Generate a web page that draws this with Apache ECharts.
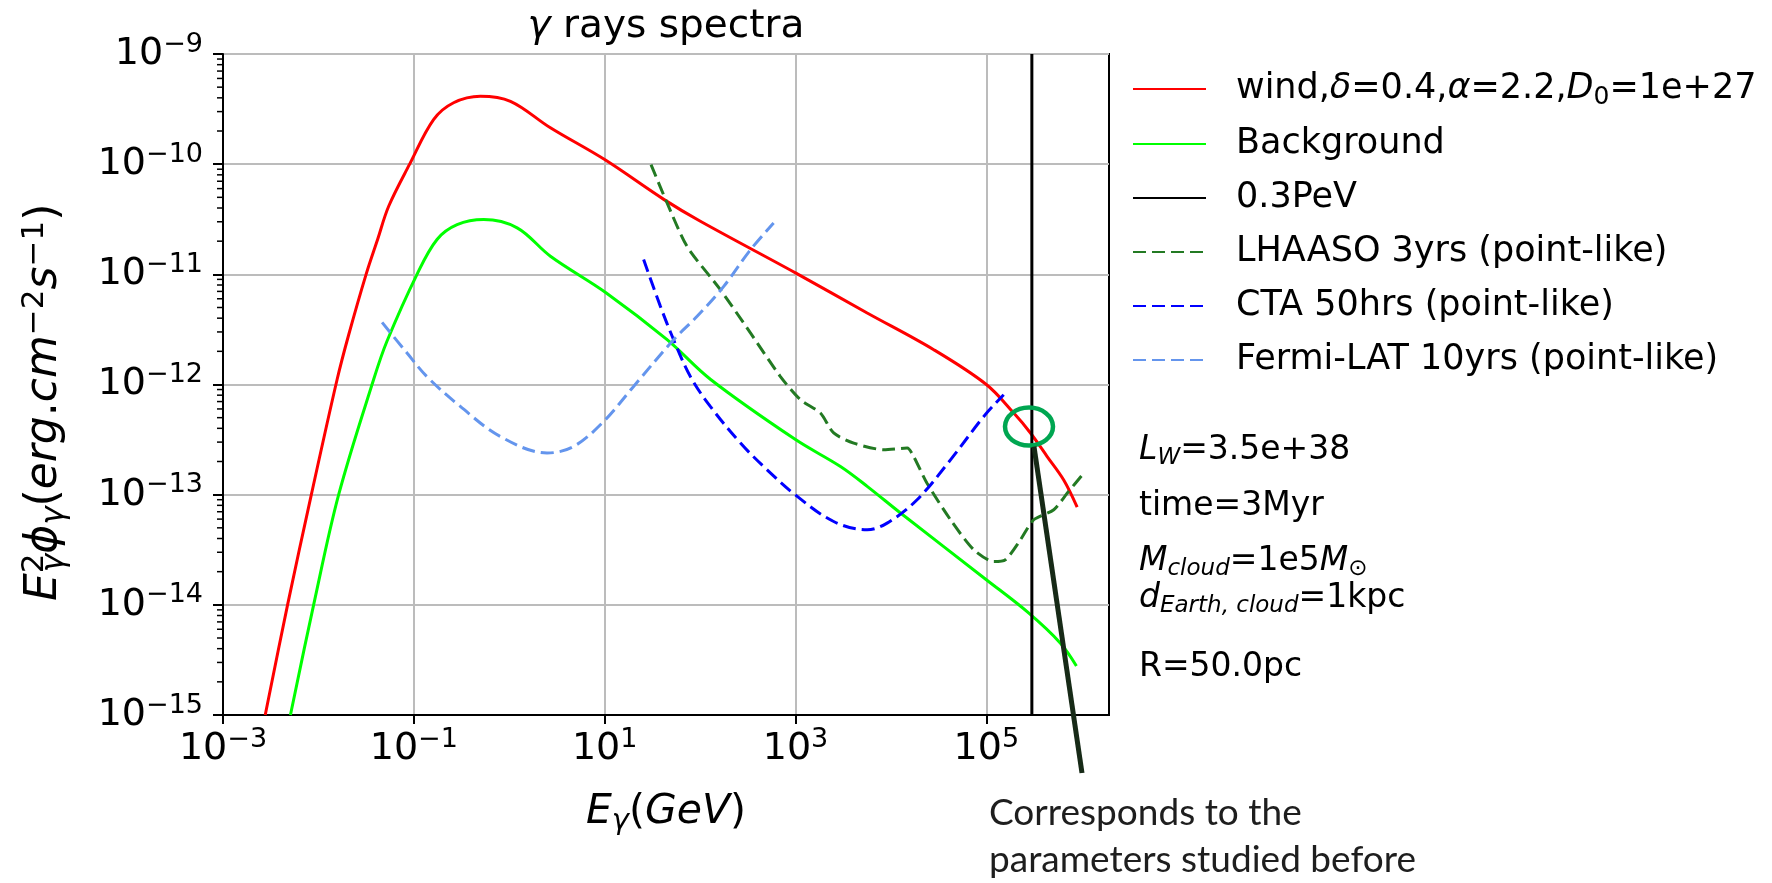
<!DOCTYPE html>
<html>
<head>
<meta charset="utf-8">
<script src="https://cdn.jsdelivr.net/npm/echarts@6/dist/echarts.min.js"></script>
<style>
  html, body { margin: 0; padding: 0; background: #fff; }
  #chart { width: 1772px; height: 883px; }
</style>
</head>
<body>
<div id="chart"></div>
<script>
// energies in GeV, E^2 flux in erg cm^-2 s^-1
const windE = [2.77e-3, 4.75e-3, 8.43e-3, 1.57e-2, 2.07e-2, 3.16e-2, 4.17e-2, 5.45e-2, 9.04e-2, 0.161, 0.261, 0.498, 1.03, 2.70, 10, 41.6, 100.7, 1000, 5640, 2.81e4, 1e5, 1.94e5, 2.90e5, 4.34e5, 6.47e5, 8.95e5];
const windF = [1e-15, 1e-14, 1e-13, 1.11e-12, 2.80e-12, 1e-11, 2.07e-11, 4.15e-11, 1e-10, 2.54e-10, 3.61e-10, 4.14e-10, 3.72e-10, 2.14e-10, 1.10e-10, 4.79e-11, 3.03e-11, 1.03e-11, 4.46e-12, 2.07e-12, 1.0e-12, 5.5e-13, 3.63e-13, 2.22e-13, 1.36e-13, 7.71e-14];

const bgE = [5.09e-3, 8.91e-3, 1.63e-2, 3.79e-2, 5.24e-2, 0.108, 0.175, 0.284, 0.540, 1.21, 2.70, 10.4, 45.1, 129, 1000, 2960, 5640, 1.26e4, 1e5, 2.79e5, 5.98e5, 8.79e5];
const bgF = [1e-15, 1e-14, 1e-13, 1.11e-12, 2.48e-12, 1e-11, 2.07e-11, 2.82e-11, 3.14e-11, 2.64e-11, 1.46e-11, 6.78e-12, 2.55e-12, 1.11e-12, 3.16e-13, 1.80e-13, 1.19e-13, 6.81e-14, 1.69e-14, 8.41e-15, 4.49e-15, 2.79e-15];

const cutE = [3e5, 3e5];
const cutF = [1e-15, 1e-9];

const lhaasoE = [30.6, 45.1, 73.1, 163, 337, 695, 1125, 1824, 2512, 4074, 8414, 1.48e4, 1.73e4, 2.39e4, 4.21e4, 7.38e4, 1.20e5, 1.58e5, 2.28e5, 3.14e5, 5.09e5, 7.03e5, 1.05e6];
const lhaasoF = [9.91e-11, 4.45e-11, 1.79e-11, 7.26e-12, 2.94e-12, 1.18e-12, 7.28e-13, 5.51e-13, 3.63e-13, 2.94e-13, 2.56e-13, 2.65e-13, 2.22e-13, 1.27e-13, 5.92e-14, 3.16e-14, 2.47e-14, 2.56e-14, 3.90e-14, 5.92e-14, 7.29e-14, 1.03e-13, 1.57e-13];

const ctaE = [25.6, 38.4, 52.8, 79.1, 128, 265, 504, 991, 2512, 5640, 9120, 1.88e4, 4.21e4, 9.40e4, 1.52e5];
const ctaF = [1.36e-11, 5.12e-12, 2.55e-12, 1.18e-12, 6.32e-13, 2.94e-13, 1.68e-13, 9.98e-14, 5.71e-14, 4.80e-14, 5.52e-14, 8.99e-14, 2.07e-13, 5.13e-13, 8.07e-13];

const fermiE = [4.65e-2, 8.49e-2, 0.137, 0.307, 0.807, 2.49, 4.73, 9.77, 20.1, 52.8, 93.1, 177, 337, 590];
const fermiF = [3.66e-12, 1.93e-12, 1.18e-12, 6.32e-13, 3.37e-13, 2.39e-13, 2.74e-13, 4.62e-13, 9.61e-13, 2.55e-12, 4.16e-12, 7.78e-12, 1.67e-11, 2.93e-11];

const seriesNames = ['wind', 'Background', '0.3PeV', 'LHAASO 3yrs (point-like)', 'CTA 50hrs (point-like)', 'Fermi-LAT 10yrs (point-like)'];

const xTicks = [1e-3, 1e-1, 1e1, 1e3, 1e5];
const yTicks = [1e-15, 1e-14, 1e-13, 1e-12, 1e-11, 1e-10, 1e-9];
const minorMantissas = [2, 3, 4, 5, 6, 7, 8, 9];

const paramTexts = [
  '{i|L}{sub|W}{n|=3.5e+38}',
  '{n|time=3Myr}',
  '{i|M}{sub|cloud}{n|=1e5}{i|M}{subn|⊙}',
  '{i|d}{sub|Earth, cloud}{n|=1kpc}',
  '{n|R=50.0pc}'
];
const calloutLines = ['Corresponds to the', 'parameters studied before'];

const xMin = 1e-3, xMax = 1.93e6;
const markAt = [2.8e5, 4.15e-13];

const pairs = (xs, ys) => xs.map((x, i) => [x, ys[i]]);

let yMinor = [];
yTicks.slice(0, -1).forEach(d => minorMantissas.forEach(m => yMinor.push(m * d)));

const FONT = 'DejaVu Sans';

function powLabel(v) {
  const e = Math.round(Math.log10(v));
  return '{b|10}{s|' + (e < 0 ? '\u2212' + (-e) : e) + '}';
}

const tickRich = {
  b: { fontFamily: FONT, fontSize: 38, lineHeight: 46, color: '#000' },
  s: { fontFamily: FONT, fontSize: 27, lineHeight: 27, verticalAlign: 'top', color: '#000' }
};

const mathRich = (size) => {
  const small = Math.round(size * 0.7);
  return {
    n: { fontFamily: FONT, fontSize: size, lineHeight: size + 7, color: '#000' },
    i: { fontFamily: FONT, fontStyle: 'italic', fontSize: size, lineHeight: size + 7, color: '#000' },
    sub: { fontFamily: FONT, fontStyle: 'italic', fontSize: small, lineHeight: small, verticalAlign: 'bottom', color: '#000' },
    subn: { fontFamily: FONT, fontSize: small, lineHeight: small, verticalAlign: 'bottom', color: '#000' },
    sup: { fontFamily: FONT, fontSize: small, lineHeight: small, verticalAlign: 'top', color: '#000' },
    sup0: { fontFamily: FONT, fontSize: small, lineHeight: small, verticalAlign: 'top', width: 1, align: 'left', color: '#000' }
  };
};

const chart = echarts.init(document.getElementById('chart'));

const lineSeries = (name, xs, ys, color, dashed, smooth) => ({
  name: name,
  type: 'line',
  data: pairs(xs, ys),
  symbol: 'none',
  smooth: smooth,
  lineStyle: { color: color, width: 3, type: dashed ? [13, 6] : 'solid' },
  itemStyle: { color: color },
  z: 3
});

const paramY = [450, 506, 561, 598, 667];

let option = {
  animation: false,
  backgroundColor: '#fff',
  grid: {
    left: 223, right: 663, top: 54, bottom: 168,
    show: true, borderColor: '#000', borderWidth: 2, backgroundColor: 'transparent'
  },
  xAxis: {
    type: 'log', logBase: 10, min: xMin, max: xMax,
    axisLine: { show: true, lineStyle: { color: '#000', width: 2 } },
    axisTick: { show: true, length: 9, customValues: xTicks, lineStyle: { color: '#000', width: 2 } },
    axisLabel: { customValues: xTicks, margin: 11, formatter: powLabel, rich: tickRich },
    splitLine: { show: true, lineStyle: { color: '#bcbcbc', width: 2 } },
    minorTick: { show: false }
  },
  yAxis: {
    type: 'log', logBase: 10, min: 1e-15, max: 1e-9,
    axisLine: { show: true, lineStyle: { color: '#000', width: 2 } },
    axisTick: { show: true, length: 10, lineStyle: { color: '#000', width: 2 } },
    axisLabel: { margin: 20, formatter: powLabel, rich: tickRich, showMinLabel: true, showMaxLabel: true },
    splitLine: { show: true, lineStyle: { color: '#bcbcbc', width: 2 } }
  },
  legend: {
    orient: 'vertical', left: 1132, top: 68, padding: 0,
    itemWidth: 73, itemHeight: 14, itemGap: 14,
    itemStyle: { opacity: 0 },
    data: seriesNames,
    formatter: (name) => name === 'wind'
      ? 'wind,{i|δ}=0.4,{i|α}=2.2,{i|D}{subn|0}=1e+27'
      : name,
    textStyle: {
      fontFamily: FONT, fontSize: 35, lineHeight: 40, color: '#000',
      padding: [0, 0, 0, 25],
      rich: mathRich(35)
    }
  },
  series: [
    lineSeries('wind', windE, windF, '#ff0000', false, 0.35),
    lineSeries('Background', bgE, bgF, '#00ff00', false, 0.35),
    lineSeries('0.3PeV', cutE, cutF, '#000000', false, false),
    lineSeries('LHAASO 3yrs (point-like)', lhaasoE, lhaasoF, '#237a23', true, 0.25),
    lineSeries('CTA 50hrs (point-like)', ctaE, ctaF, '#0000ff', true, 0.35),
    lineSeries('Fermi-LAT 10yrs (point-like)', fermiE, fermiF, '#6495ed', true, 0.35),
    {
      name: 'minor', type: 'custom', silent: true, clip: false, z: 6,
      data: yMinor.map(v => [xMin, v]),
      renderItem: (params, api) => {
        const p = api.coord([api.value(0), api.value(1)]);
        return {
          type: 'line',
          shape: { x1: p[0] - 6, y1: p[1], x2: p[0], y2: p[1] },
          style: { stroke: '#000', lineWidth: 1.5 }
        };
      }
    },
    {
      name: 'mark', type: 'custom', silent: true, clip: false, z: 10,
      data: [markAt],
      renderItem: (params, api) => {
        const c = api.coord([api.value(0), api.value(1)]);
        return {
          type: 'group',
          children: [
            { type: 'ellipse', shape: { cx: c[0], cy: c[1], rx: 24, ry: 19 },
              style: { fill: 'none', stroke: '#00a651', lineWidth: 4.5 } },
            { type: 'line', shape: { x1: c[0] + 5, y1: c[1] + 20, x2: 1082, y2: 773 },
              style: { stroke: '#172a17', lineWidth: 5 } }
          ]
        };
      }
    }
  ],
  graphic: [
    { type: 'text', x: 666, y: 27, style: {
        text: '{i|γ}{n| rays spectra}', rich: mathRich(39),
        align: 'center', verticalAlign: 'middle' } },
    { type: 'text', x: 45, y: 601, rotation: Math.PI / 2, style: {
        text: '{i|E}{sup0|2}{sub|γ}{i|ϕ}{sub|γ}{n|(}{i|erg}{n|.}{i|cm}{sup|−2}{i|s}{sup|−1}{n|)}',
        rich: mathRich(44), align: 'left', verticalAlign: 'middle' } },
    { type: 'text', x: 666, y: 812, style: {
        text: '{i|E}{sub|γ}{n|(}{i|GeV}{n|)}', rich: mathRich(41),
        align: 'center', verticalAlign: 'middle' } }
  ].concat(paramTexts.map((t, i) => ({
    type: 'text', x: 1139, y: paramY[i], style: {
      text: t, rich: mathRich(33), align: 'left', verticalAlign: 'middle' }
  }))).concat(calloutLines.map((t, i) => ({
    type: 'text', x: 989, y: 813 + i * 47, style: {
      text: t, fontFamily: 'Lato', fontSize: 37, fill: '#1e1e1e',
      align: 'left', verticalAlign: 'middle' }
  })))
};

chart.setOption(option);
</script>
</body>
</html>
